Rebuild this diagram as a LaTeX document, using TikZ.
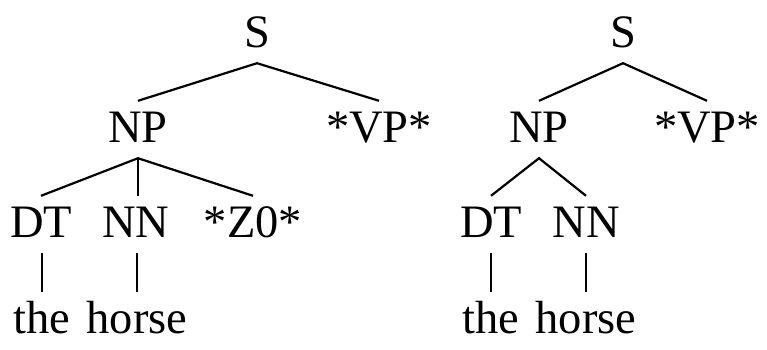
\documentclass[tikz,border=0pt]{standalone}
\usepackage{fontspec}
\setmainfont{Liberation Serif}
\begin{document}
\begin{tikzpicture}[x=1pt,y=-1pt,
  lab/.style={anchor=base,inner sep=0pt,text height=41pt,text depth=16pt,font=\fontsize{46.5}{56}\selectfont},
  edge/.style={line width=2.2pt}]
\useasboundingbox (0,0) rectangle (767,349);
% left tree
\node[lab] (S1) at (257,47) {S};
\node[lab] (NP1) at (138,142) {NP};
\node[lab] (VP1) at (379,142) {*VP*};
\node[lab] (DT1) at (41,237) {DT};
\node[lab] (NN1) at (136,237) {NN};
\node[lab] (Z1) at (253,237) {*Z0*};
\node[lab] (the1) at (42,333) {the};
\node[lab] (horse1) at (137,333) {horse};
\draw[edge] (NP1.north) -- (S1.south) -- (VP1.north);
\draw[edge] (DT1.north) -- (NP1.south) -- (Z1.north);
\draw[edge] (NP1.south) -- (NP1.south |- NN1.north);
\draw[edge] (DT1.south -| the1.north) -- (the1.north);
\draw[edge] (horse1.north |- NN1.south) -- (horse1.north);
% right tree
\node[lab] (S2) at (623,47) {S};
\node[lab] (NP2) at (539,142) {NP};
\node[lab] (VP2) at (707,142) {*VP*};
\node[lab] (DT2) at (491,237) {DT};
\node[lab] (NN2) at (586,237) {NN};
\node[lab] (the2) at (491,333) {the};
\node[lab] (horse2) at (586,333) {horse};
\draw[edge] (NP2.north) -- (S2.south) -- (VP2.north);
\draw[edge] (DT2.north) -- (NP2.south) -- (NN2.north);
\draw[edge] (DT2.south) -- (the2.north);
\draw[edge] (NN2.south) -- (horse2.north);
\end{tikzpicture}
\end{document}
